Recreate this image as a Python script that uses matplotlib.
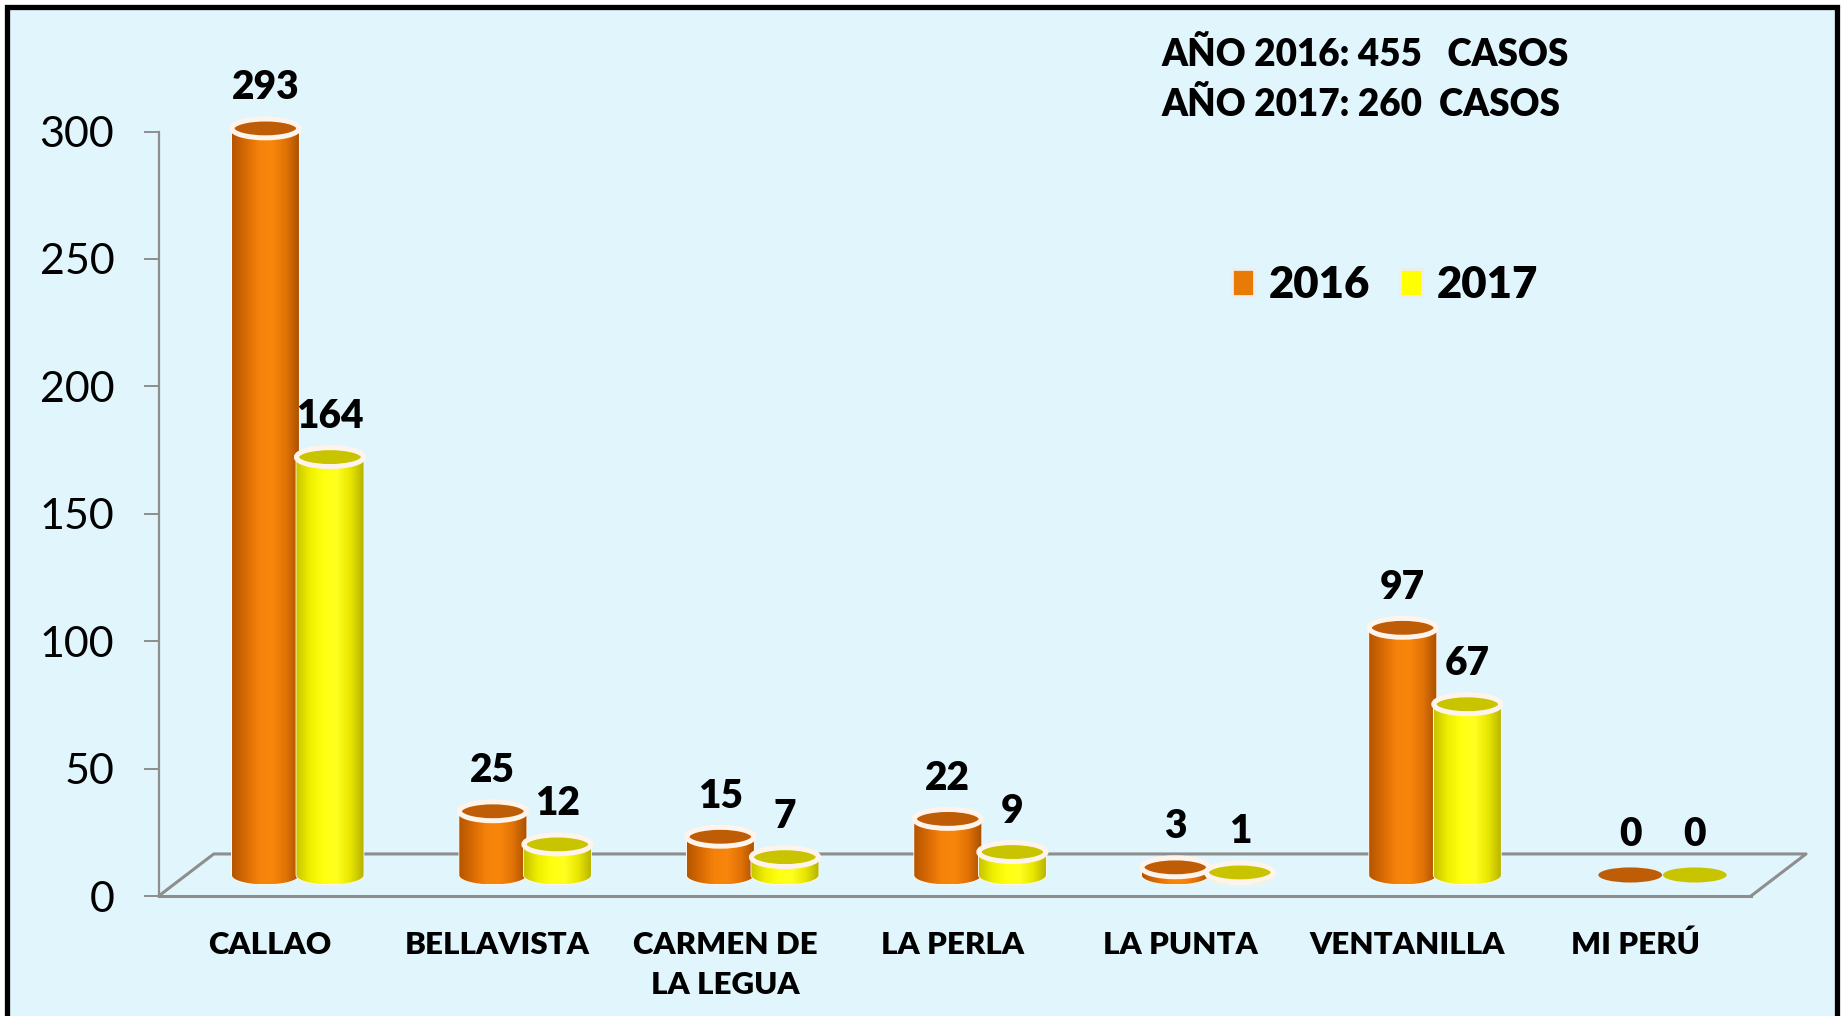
import numpy as np
import matplotlib
matplotlib.use("Agg")
import matplotlib.pyplot as plt
from matplotlib.patches import Ellipse, PathPatch, Rectangle, Patch
from matplotlib.path import Path
from matplotlib.colors import LinearSegmentedColormap

# ---------------- data ----------------
categories = ["CALLAO", "BELLAVISTA", "CARMEN DE\nLA LEGUA", "LA PERLA",
              "LA PUNTA", "VENTANILLA", "MI PERÚ"]
years = ["2016", "2017"]
cases_2016 = [293, 25, 15, 22, 3, 97, 0]
cases_2017 = [164, 12, 7, 9, 1, 67, 0]
y_ticks = [0, 50, 100, 150, 200, 250, 300]
summary_lines = ["AÑO 2016: 455   CASOS", "AÑO 2017: 260  CASOS"]

# ---------------- figure ----------------
W, H = 1843, 1016
fig = plt.figure(figsize=(W / 100, H / 100), dpi=100)
fig.patch.set_facecolor("white")

bg = "#E1F5FC"
frame = Rectangle((7 / W, -0.02), (1837 - 7) / W, (1016 - 7) / H + 0.02,
                  transform=fig.transFigure, facecolor=bg,
                  edgecolor="black", linewidth=3.8, zorder=-10)
fig.patches.append(frame)

FONT = "Lato"
BOLD = "heavy"

# axes: left spine = y axis, bottom spine = front edge of floor
x0_px, x1_px = 158.7, 1751.0
y0_px, y300_px = 896.0, 131.6
ax = fig.add_axes([x0_px / W, (H - y0_px) / H, (x1_px - x0_px) / W, (y0_px - y300_px) / H])
ax.set_facecolor("none")
xmin, xmax = -0.49, 6.51
ax.set_xlim(xmin, xmax)
ax.set_ylim(0, 300)

grey = "#8E8E8E"
for s in ["top", "right"]:
    ax.spines[s].set_visible(False)
ax.spines["left"].set_color(grey)
ax.spines["left"].set_linewidth(1.6)
ax.spines["bottom"].set_color(grey)
ax.spines["bottom"].set_linewidth(2.2)

ax.set_yticks(y_ticks)
ax.set_yticklabels([str(t) for t in y_ticks], fontfamily=FONT, fontsize=31)
ax.tick_params(axis="y", length=11, width=1.4, color=grey, pad=21)
ax.set_xticks(range(len(categories)))
ax.set_xticklabels(categories, fontfamily=FONT, fontweight=BOLD, fontsize=22.5,
                   linespacing=1.55, va="top")
ax.tick_params(axis="x", length=0, pad=25)

# floor (3D depth)
depth = 16.5      # value units
shift = 0.242     # category units
ax.plot([xmin, xmin + shift, xmax + shift, xmax],
        [0, depth, depth, 0], color=grey, lw=2.2, clip_on=False, zorder=1)

# cylinders
base = depth / 2
mid_shift = shift / 2
sep = 0.284
bw = 0.295
eh = 7.4

orange_cmap = LinearSegmentedColormap.from_list(
    "o", ["#B45500", "#D86A04", "#F5820A", "#F8860C", "#E07206", "#A94F00"])
yellow_cmap = LinearSegmentedColormap.from_list(
    "y", ["#C8C400", "#EEEE00", "#FFFF10", "#FFFF20", "#E8E600", "#B5B200"])
top_colors = ["#BF5C06", "#C9C400"]
cmaps = [orange_cmap, yellow_cmap]
series = [cases_2016, cases_2017]
grad = np.linspace(0, 1, 256).reshape(1, -1)

for i in range(len(categories)):
    for s, vals in enumerate(series):
        v = vals[i]
        xc = i + mid_shift + (s - 0.5) * sep
        xl, xr = xc - bw / 2, xc + bw / 2
        z = 3 + i * 2 + s
        if v > 0:
            th = np.linspace(np.pi, 2 * np.pi, 60)
            verts = [(xl, base + v), (xl, base)]
            verts += list(zip(xc + bw / 2 * np.cos(th), base + eh / 2 * np.sin(th)))
            verts += [(xr, base), (xr, base + v), (xl, base + v)]
            codes = [Path.MOVETO] + [Path.LINETO] * (len(verts) - 2) + [Path.CLOSEPOLY]
            path = Path(verts, codes)
            body = PathPatch(path, facecolor="none", edgecolor="#FFF6EA", lw=1.2,
                             zorder=z, clip_on=False)
            ax.add_patch(body)
            im = ax.imshow(grad, cmap=cmaps[s], aspect="auto",
                           extent=[xl, xr, base - eh / 2, base + v],
                           zorder=z, interpolation="bilinear")
            im.set_clip_path(body)
            ax.add_patch(Ellipse((xc, base + v), bw, eh, facecolor=top_colors[s],
                                 edgecolor="#FFF4EC", lw=3.6, zorder=z + 0.5,
                                 clip_on=False))
        else:
            ax.add_patch(Ellipse((xc, base), bw * 0.95, eh * 0.8,
                                 facecolor=top_colors[s], edgecolor="none",
                                 zorder=z + 0.5, clip_on=False))
        ax.annotate(str(v), (xc, base + v), xytext=(0, 16), textcoords="offset points",
                    ha="center", va="bottom", fontfamily=FONT, fontweight=BOLD,
                    fontsize=28, color="black", zorder=30, annotation_clip=False)

ax.set_xlim(xmin, xmax)
ax.set_ylim(0, 300)

# summary text
for k, line in enumerate(summary_lines):
    fig.text(1161 / W, 1 - (55 + 50 * k) / H, line, ha="left", va="center",
             fontfamily=FONT, fontweight=BOLD, fontsize=26.5, color="black")

# legend
handles = [Patch(facecolor="#E87A06", edgecolor="#EDEDED", lw=2),
           Patch(facecolor="#FFFF00", edgecolor="#EDEDED", lw=2)]
fig.legend(handles, years, loc="center left", bbox_to_anchor=(1232 / W, 1 - 285 / H),
           ncol=2, frameon=False, prop={"family": FONT, "weight": BOLD, "size": 31.5},
           handlelength=0.5, handleheight=0.55, handletextpad=0.33,
           columnspacing=0.7, borderpad=0, borderaxespad=0)

fig.savefig("out.png", dpi=100, facecolor="white")
